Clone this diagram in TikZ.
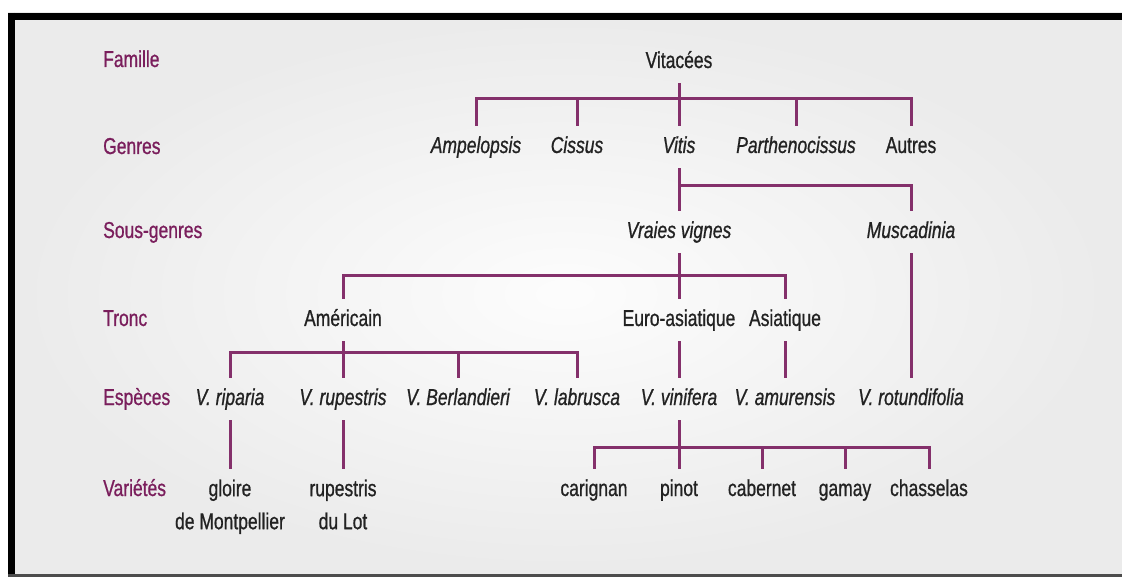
\documentclass[tikz,border=0pt]{standalone}
\usepackage{fontspec}
\setmainfont{Liberation Sans}[FakeStretch=0.76, FakeBold=0.8]
\definecolor{lin}{HTML}{84306B}
\definecolor{lab}{HTML}{7A1E5C}
\definecolor{txt}{HTML}{222222}
\begin{document}
\begin{tikzpicture}[x=1pt,y=-1pt,
  t/.style={text=txt, font=\fontsize{23}{33}\selectfont, text height=17pt, text depth=5pt, inner ysep=10pt, inner xsep=1pt},
  it/.style={t, font=\fontsize{23}{33}\selectfont\itshape},
  lvl/.style={t, text=lab, anchor=west, inner xsep=0pt},
  twoline/.style={t, align=center, text height=50pt, text depth=5pt, anchor=north},
  con/.style={draw=lin, line width=3pt}
]
\useasboundingbox (0,0) rectangle (1122,577);
\fill[white] (0,0) rectangle (1122,577);
\shade[inner color=white!99!black, outer color=white!92!black] (8,13) rectangle (1122,575);
\draw[line width=7pt] (8,16.5) -- (1122,16.5);
\draw[line width=7pt] (11.5,13) -- (11.5,575);
\draw[line width=3pt, black!70] (8,575) -- (1122,575);

% level labels
\node[lvl] (lfam) at (103,61) {Famille};
\node[lvl] (lgen) at (103,148) {Genres};
\node[lvl] (lsg) at (103,232) {Sous-genres};
\node[lvl] (ltr) at (103,320) {Tronc};
\node[lvl] (lesp) at (103,399) {Espèces};
\node[lvl] (lvar) at (103,490) {Variétés};

% nodes
\node[t] (vitacees) at (679,62) {Vitacées};
\node[it] (ampelopsis) at (476,147) {Ampelopsis};
\node[it] (cissus) at (577,147) {Cissus};
\node[it] (vitis) at (679,147) {Vitis};
\node[it] (parth) at (796,147) {Parthenocissus};
\node[t] (autres) at (911,147) {Autres};
\node[it] (vraies) at (679,232) {Vraies vignes};
\node[it] (musc) at (911,232) {Muscadinia};
\node[t] (americain) at (343,320) {Américain};
\node[t] (euro) at (679,320) {Euro-asiatique};
\node[t] (asiat) at (785,320) {Asiatique};
\node[it] (riparia) at (230,399) {V. riparia};
\node[it] (rupestris) at (343,399) {V. rupestris};
\node[it] (berl) at (458,399) {V. Berlandieri};
\node[it] (labr) at (577,399) {V. labrusca};
\node[it] (vinif) at (679,399) {V. vinifera};
\node[it] (amur) at (785,399) {V. amurensis};
\node[it] (rotund) at (911,399) {V. rotundifolia};
\node[twoline] (gloire) at (230,469) {gloire\\de Montpellier};
\node[twoline] (ruplot) at (343,469) {rupestris\\du Lot};
\node[t] (carignan) at (594,490) {carignan};
\node[t] (pinot) at (679,490) {pinot};
\node[t] (cabernet) at (762,490) {cabernet};
\node[t] (gamay) at (845,490) {gamay};
\node[t] (chasselas) at (929,490) {chasselas};

% connectors
\coordinate (b1) at (0,99);
\draw[con] (vitacees.south) -- (vitis.north);
\draw[con] (ampelopsis.north) -- (ampelopsis.north |- b1) -- (autres.north |- b1) -- (autres.north);
\draw[con] (cissus.north) -- (cissus.north |- b1);
\draw[con] (parth.north) -- (parth.north |- b1);

\coordinate (b2) at (0,186);
\draw[con] (vitis.south) -- (vraies.north);
\draw[con] (vitis.south |- b2) -- (musc.north |- b2) -- (musc.north);

\coordinate (b3) at (0,276);
\draw[con] (vraies.south) -- (euro.north);
\draw[con] (americain.north) -- (americain.north |- b3) -- (asiat.north |- b3) -- (asiat.north);
\draw[con] (musc.south) -- (rotund.north);

\coordinate (b4) at (0,353);
\draw[con] (americain.south) -- (rupestris.north);
\draw[con] (riparia.north) -- (riparia.north |- b4) -- (labr.north |- b4) -- (labr.north);
\draw[con] (berl.north) -- (berl.north |- b4);
\draw[con] (euro.south) -- (vinif.north);
\draw[con] (asiat.south) -- (amur.north);

\draw[con] (riparia.south) -- (gloire.north);
\draw[con] (rupestris.south) -- (ruplot.north);

\coordinate (b5) at (0,447);
\draw[con] (vinif.south) -- (pinot.north);
\draw[con] (carignan.north) -- (carignan.north |- b5) -- (chasselas.north |- b5) -- (chasselas.north);
\draw[con] (cabernet.north) -- (cabernet.north |- b5);
\draw[con] (gamay.north) -- (gamay.north |- b5);
\end{tikzpicture}
\end{document}
